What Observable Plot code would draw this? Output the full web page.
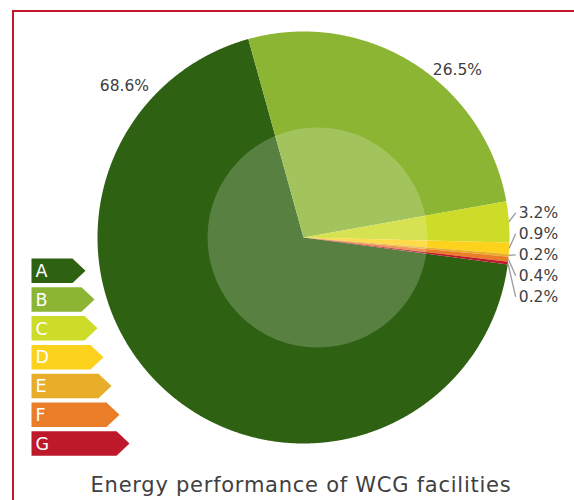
<!DOCTYPE html>
<html><head><meta charset="utf-8">
<script src="https://cdn.jsdelivr.net/npm/d3@7"></script>
<script src="https://cdn.jsdelivr.net/npm/@observablehq/plot@0.6"></script>
<style>
html,body{margin:0;padding:0;background:#fff;}
#wrap{position:relative;width:574px;height:500px;overflow:hidden;background:#fff;}
#frame{position:absolute;left:12px;top:10px;width:640px;height:640px;border:2px solid #c1182d;box-sizing:border-box;}
#pie,#legend{position:absolute;left:0;top:0;}
#title{position:absolute;left:0;width:602px;top:472px;text-align:center;font-family:"DejaVu Sans";font-size:21px;letter-spacing:0.75px;color:#404040;white-space:nowrap;line-height:26px;}
</style></head>
<body><div id="wrap"><div id="frame"></div><div id="pie"></div><div id="legend"></div><div id="title"></div></div>
<script>
// ---- data ----
const classes = ["A", "B", "C", "D", "E", "F", "G"];
const shares = [68.6, 26.5, 3.2, 0.9, 0.2, 0.4, 0.2];
const shareLabels = ["68.6%", "26.5%", "3.2%", "0.9%", "0.2%", "0.4%", "0.2%"];
const chartTitle = "Energy performance of WCG facilities";

// ---- style / layout ----
const colors = ["#2e6112", "#8cb534", "#cddb29", "#fdd21d", "#e8ae2a", "#ea7d27", "#bd192b"];
const cx = 303, cy = 237, R = 206;          // pie centre & radius (px)
const startDeg = 97.5;                       // where class A begins (clockwise from 12 o'clock)
const bigLabel = {A: {f: 0.861, r: 1.137}, B: {f: 0.61, r: 1.103}}; // position along slice, radius
const sideX = 1.045, sideLineX = 1.03, sideY0 = -0.12, sideStep = 0.102;
const arrowLen = [54, 63, 66, 72, 80, 88, 98];
const font = "DejaVu Sans";

const rows = classes.map((c, i) => ({cls: c, share: shares[i], label: shareLabels[i]}));
const rad = Math.PI / 180;
const arcs = d3.pie().sort(null).value(d => d.share)
  .startAngle(startDeg * rad).endAngle(startDeg * rad + 2 * Math.PI)(rows);

// polygon points for each slice (unit radius)
const pts = [];
for (const a of arcs) {
  const n = Math.max(2, Math.ceil((a.endAngle - a.startAngle) / (0.25 * rad)));
  pts.push({cls: a.data.cls, x: 0, y: 0});
  for (let k = 0; k <= n; k++) {
    const t = a.startAngle + (a.endAngle - a.startAngle) * k / n;
    pts.push({cls: a.data.cls, x: Math.sin(t), y: -Math.cos(t)});
  }
}

const big = arcs.filter(a => bigLabel[a.data.cls]).map(a => {
  const p = bigLabel[a.data.cls];
  const t = a.startAngle + (a.endAngle - a.startAngle) * p.f;
  return {label: a.data.label, x: p.r * Math.sin(t), y: -p.r * Math.cos(t)};
});
const small = arcs.filter(a => !bigLabel[a.data.cls]).map((a, i) => {
  const t = (a.startAngle + a.endAngle) / 2;
  return {label: a.data.label, ex: Math.sin(t), ey: -Math.cos(t), lx: sideX, ly: sideY0 + i * sideStep};
});

const pie = Plot.plot({
  width: 574, height: 460,
  margin: 0,
  style: {background: "transparent", overflow: "visible"},
  x: {domain: [-1, 1], range: [cx - R, cx + R], axis: null},
  y: {domain: [-1, 1], range: [cy - R, cy + R], axis: null},
  color: {domain: classes, range: colors},
  marks: [
    Plot.line(pts, {x: "x", y: "y", z: "cls", fill: "cls", stroke: null}),
    Plot.dot([{x: 0, y: 0}], {x: "x", y: "y", dx: 14, r: 110, fill: "white", fillOpacity: 0.2, stroke: null}),
    Plot.text(big, {x: "x", y: "y", text: "label", fontSize: 15.5, fontFamily: font, fill: "#404040", textAnchor: "middle"}),
    Plot.link(small, {x1: "ex", y1: "ey", x2: () => sideLineX, y2: "ly", stroke: "#9a9a9a", strokeWidth: 1.3}),
    Plot.text(small, {x: "lx", y: "ly", text: "label", fontSize: 15.5, fontFamily: font, fill: "#404040", textAnchor: "start"})
  ]
});
document.getElementById("pie").appendChild(pie);

// legend arrows
const arrowPts = [];
classes.forEach((c, i) => {
  const L = arrowLen[i], tip = 13;
  arrowPts.push({cls: c, x: 0, y: i}, {cls: c, x: L - tip, y: i}, {cls: c, x: L, y: i + 0.425},
                {cls: c, x: L - tip, y: i + 0.85}, {cls: c, x: 0, y: i + 0.85});
});
const legend = Plot.plot({
  width: 150, height: 470,
  margin: 0,
  style: {background: "transparent", overflow: "visible"},
  x: {domain: [0, 100], range: [31, 131], axis: null},
  y: {domain: [0, 7], range: [258, 258 + 7 * 28.8], axis: null},
  color: {domain: classes, range: colors},
  marks: [
    Plot.line(arrowPts, {x: "x", y: "y", z: "cls", fill: "cls", stroke: null}),
    Plot.text(classes, {x: () => 4, y: (d, i) => i + 0.45, text: d => d, fill: "white", fontSize: 17.5, fontFamily: font, textAnchor: "start"})
  ]
});
document.getElementById("legend").appendChild(legend);
document.getElementById("title").textContent = chartTitle;
</script>
</body></html>
